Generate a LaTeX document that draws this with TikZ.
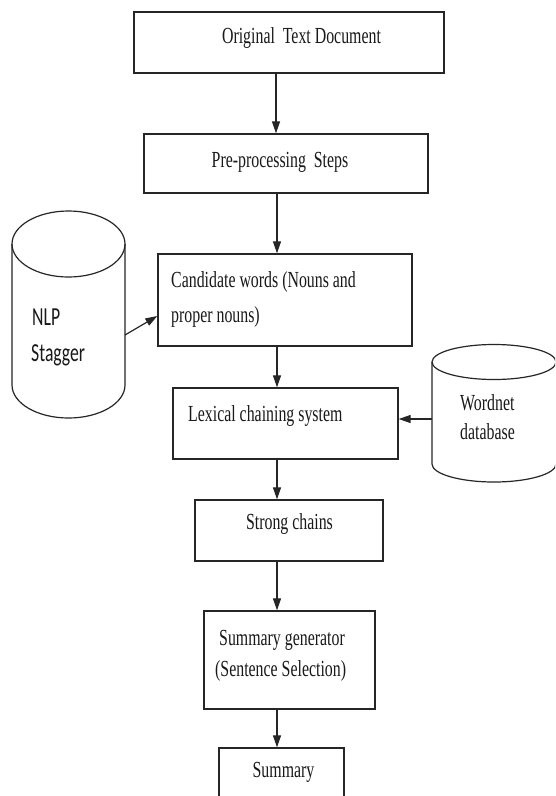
\documentclass[tikz,border=0pt]{standalone}
\usepackage{fontspec}
\newfontfamily\serifc[FakeStretch=0.69]{Liberation Serif}
\newfontfamily\sansc[FakeStretch=0.68]{Carlito}
\usetikzlibrary{arrows.meta}
\begin{document}
\begin{tikzpicture}[x=1pt,y=-1pt,
  box/.style={draw=black!85,line width=1.3pt,inner sep=0pt,fill=none},
  txt/.style={inner sep=0pt,font=\serifc\fontsize{23}{28}\selectfont,text=black!90},
  stxt/.style={inner sep=0pt,font=\sansc\fontsize{26}{30}\selectfont,text=black!90},
  cyl/.style={draw=black!85,line width=1.2pt},
  arr/.style={draw=black!85,line width=1.2pt,-{Triangle[length=12pt,width=8pt]}}]
\useasboundingbox (0,0) rectangle (555,796);
\clip (0,0) rectangle (555,796);
\fill[white] (0,0) rectangle (555,796);
% boxes
\node[box,minimum width=310pt,minimum height=61pt] (b1) at (289,42.5) {};
\node[box,minimum width=284pt,minimum height=59pt] (b2) at (286,163.5) {};
\node[box,minimum width=254pt,minimum height=92pt] (b3) at (285,300) {};
\node[box,minimum width=225pt,minimum height=71pt] (b4) at (285.5,423.5) {};
\node[box,minimum width=188pt,minimum height=61pt] (b5) at (289,530.5) {};
\node[box,minimum width=171pt,minimum height=98pt] (b6) at (289.5,660) {};
\node[box,minimum width=125pt,minimum height=60pt] (b7) at (281.5,778) {};
% texts
\node[txt,anchor=base] (t1) at (301.5,43) {Original\ \ Text Document};
\node[txt,anchor=base] (t2) at (280,167) {Pre-processing\ \ Steps};
\node[txt,anchor=base west] (t3a) at (171,287) {Candidate words (Nouns and};
\node[txt,anchor=base west] (t3b) at (171,322) {proper nouns)};
\node[txt,anchor=base west] (t4) at (188,421) {Lexical chaining system};
\node[txt,anchor=base] (t5) at (289.5,529) {Strong chains};
\node[txt,anchor=base west] (t6a) at (219,645) {Summary generator};
\node[txt,anchor=base west] (t6b) at (215,676) {(Sentence Selection)};
\node[txt,anchor=base] (t7) at (283.5,777) {Summary};
% NLP cylinder
\draw[cyl] (12,244) -- (12,385) arc[start angle=180,end angle=0,x radius=56.5,y radius=33] -- (125,244);
\draw[cyl] (68.5,244) ellipse[x radius=56.5,y radius=33];
\node[stxt,anchor=base west] (n1) at (32,325) {NLP};
\node[stxt,anchor=base west] (n2) at (31,361) {Stagger};
% Wordnet cylinder
\draw[cyl] (432,362) -- (432,464) arc[start angle=180,end angle=0,x radius=62,y radius=18] -- (556,362);
\draw[cyl] (494,362) ellipse[x radius=62,y radius=17.5];
\node[txt,anchor=base west] (w1) at (460,410) {Wordnet};
\node[txt,anchor=base west] (w2) at (460,439) {database};
\coordinate (nlpout) at (125,335);
\coordinate (nlpin) at (158,316);
\coordinate (wnout) at (432,419);
% connectors
\draw[arr] (b1.south -| 276,0) -- (b2.north -| 276,0);
\draw[arr] (b2.south -| 277,0) -- (b3.north -| 277,0);
\draw[arr] (b3.south -| 277,0) -- (b4.north -| 277,0);
\draw[arr] (b4.south -| 277,0) -- (b5.north -| 277,0);
\draw[arr] (b5.south -| 277,0) -- (b6.north -| 277,0);
\draw[arr] (b6.south -| 277,0) -- (b7.north -| 277,0);
\draw[arr] (nlpout) -- (b3.west |- nlpin);
\draw[arr] (wnout) -- (b4.east |- wnout);
\end{tikzpicture}
\end{document}
